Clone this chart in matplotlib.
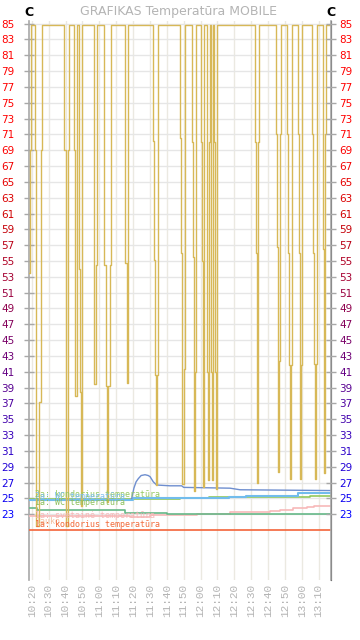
import matplotlib
matplotlib.use('Agg')
import matplotlib.pyplot as plt

# time axis: minutes after 10:00
x_ticks = [20, 30, 40, 50, 60, 70, 80, 90, 100, 110, 120, 130, 140, 150, 160, 170, 180, 190]
x_labels = ['10:20', '10:30', '10:40', '10:50', '11:00', '11:10', '11:20', '11:30', '11:40',
            '11:50', '12:00', '12:10', '12:20', '12:30', '12:40', '12:50', '13:00', '13:10']
y_ticks = list(range(23, 86, 2))

# heating water (gold step series)
gold_t = [18.6, 19.2, 19.6,
          22.07, 22.7, 24.2, 25.3, 26.2,
          39.26, 40.1, 41.3, 41.7, 42.22,
          45.19, 45.6, 46.6, 46.96,
          48.15, 48.6, 48.98, 49.6, 49.93,
          56.68, 57.04, 57.87, 58.46,
          62.96, 63.8, 64.5, 65.4, 66.3, 67.11,
          75.41, 76.24, 76.83, 77.19,
          92.0, 92.6, 93.1, 93.5, 94.0, 94.5, 94.96,
          108.0, 108.5, 108.9, 109.3, 110.2, 110.6, 110.96,
          115.1, 115.6, 116.0, 116.3, 116.8, 117.2, 117.5,
          120.4, 120.8, 121.2, 121.5, 121.8, 122.0, 122.2,
          123.6, 124.0, 124.3, 124.8, 125.2, 125.6,
          126.0, 126.4, 126.8, 127.3, 127.6,
          128.2, 128.6, 129.0, 129.5, 129.9,
          152.4, 152.9, 153.3, 153.6, 154.0, 154.3, 154.6,
          164.9, 165.3, 165.7, 166.0, 166.6, 167.1, 167.5,
          171.4, 171.9, 172.4, 172.8, 173.5, 174.0, 174.4,
          178.0, 178.5, 178.9, 179.2, 179.6, 180.0, 180.3,
          186.2, 186.7, 187.2, 187.7, 188.2, 188.8, 189.2,
          192.4, 192.8, 193.1, 193.4, 193.7, 193.9, 194.2,
          197.5]
gold_v = [53.5, 69, 84.8,
          69, 21.5, 37.2, 69, 84.8,
          69, 21.5, 37.7, 69, 84.8,
          69, 38.0, 53.6, 84.8,
          54, 38.5, 24, 54, 84.8,
          54.5, 39.5, 54.5, 84.8,
          54.5, 39.2, 24.5, 39.2, 54.5, 84.8,
          54.8, 39.6, 54.8, 84.8,
          70.1, 55.1, 40.6, 26.7, 40.6, 55.1, 84.8,
          70.5, 56, 41.3, 26.8, 41.3, 56, 84.8,
          70, 55.5, 41, 25.9, 41, 70, 84.8,
          70, 55, 41, 26.4, 41, 70, 84.8,
          70, 41, 27.3, 41, 70, 84.8,
          70, 41, 27.3, 55, 84.8,
          70, 41, 26.2, 55, 84.8,
          70, 56, 41.5, 27, 41.5, 70, 84.8,
          71, 56.8, 42.4, 28.4, 42.4, 71, 84.8,
          71, 56, 41.9, 27.5, 41.9, 71, 84.8,
          71, 56, 41.8, 27.4, 41.8, 71, 84.8,
          71, 56, 42, 27.5, 42, 71, 84.8,
          71, 56.5, 42.4, 28.2, 42.4, 71, 84.8,
          84.8]

# blue series with the bump around 11:25
blue_t = [79.2, 80.5, 81.8, 83.1, 84.8, 87.1, 89.0, 90.1, 92.0, 94.0, 101.9, 108.8, 110.0, 137.5, 143.4, 197.5]
blue_v = [25.0, 26.3, 27.1, 27.5, 27.9, 28.0, 27.9, 27.75, 27.1, 26.7, 26.6, 26.6, 26.4, 26.3, 26.1, 26.0]

sky_t = [18.6, 80, 137, 147, 178, 197.5]
sky_v = [24.8, 25.0, 25.15, 25.3, 25.65, 25.65]

lgreen_t = [18.6, 108, 125, 185, 197.5]
lgreen_v = [24.9, 25.05, 25.2, 25.3, 25.3]

green_t = [18.6, 23, 75, 100, 197.5]
green_v = [23.8, 23.5, 23.2, 23.1, 23.1]

pink_t = [18.6, 78, 90, 118, 137.5, 161, 167, 175, 183, 187, 197.5]
pink_v = [22.8, 22.7, 22.9, 23.1, 23.25, 23.45, 23.6, 23.8, 23.95, 24.0, 24.0]

kond_t = [18.6, 197.5]
kond_v = [21.0, 21.0]

fig = plt.figure(figsize=(3.6, 6.4), dpi=100, facecolor='white')
ax = fig.add_axes([29.3 / 360, 60 / 640, 302 / 360, 559 / 640])
ax.set_xlim(18.52, 197.48)
ax.set_ylim(14.70, 85.32)

ax.set_xticks(x_ticks)
ax.set_xticklabels(x_labels, rotation=90, family='Liberation Mono', fontsize=8, color='#b4b4b4')
ax.tick_params(axis='x', length=0, pad=3)
ax.set_yticks(y_ticks)
ax.tick_params(axis='y', direction='inout', length=7, width=1, color='#a8a8a8', pad=7, labelsize=7.5)
ax.grid(axis='x', color='#ebe9e1', linewidth=1.0)
ax.grid(axis='y', color='#e6e6e6', linewidth=1.0)
ax.set_axisbelow(True)
for s in ['top', 'bottom']:
    ax.spines[s].set_visible(False)
ax.spines['left'].set_color('#a8a8a8')
ax.spines['left'].set_linewidth(1.2)

ax2 = ax.twinx()
ax2.set_ylim(ax.get_ylim())
ax2.set_yticks(y_ticks)
ax2.tick_params(axis='y', direction='inout', length=7, width=1, color='#a8a8a8', pad=2, labelsize=7.5)
for s in ['top', 'bottom', 'left']:
    ax2.spines[s].set_visible(False)
ax2.spines['right'].set_color('#a8a8a8')
ax2.spines['right'].set_linewidth(1.2)


def label_color(v):
    t = (v - 23) / 62.0
    r = min(1.0, t / 0.75)
    b = max(0.0, 1.0 - t / 0.6)
    return (r, 0.0, b)


for a in (ax, ax2):
    for tick, v in zip(a.get_yticklabels(), y_ticks):
        tick.set_color(label_color(v))

ax.plot(kond_t, kond_v, drawstyle='steps-post', color='#f4643a', lw=1.2, zorder=3)
ax.plot(pink_t, pink_v, drawstyle='steps-post', color='#f7b9b9', lw=1.2, zorder=3)
ax.plot(green_t, green_v, drawstyle='steps-post', color='#66b888', lw=1.2, zorder=3)
ax.plot(lgreen_t, lgreen_v, drawstyle='steps-post', color='#92c85c', lw=1.2, zorder=3)
ax.plot(sky_t, sky_v, drawstyle='steps-post', color='#72bcec', lw=1.5, zorder=3)
ax.plot(blue_t, blue_v, color='#6e8ecf', lw=1.0, zorder=3)
ax.plot(gold_t, gold_v, drawstyle='steps-post', color='#d7b857', lw=1.0, zorder=4)

lab_font = dict(family='DejaVu Sans Mono', fontsize=6.0, va='center', ha='left', zorder=5)
ax.text(21.9, 25.55, '2a: kondorius temperatūra', color='#94c860', **lab_font)
ax.text(21.9, 25.3, '2a: WC temperatūra', color='#7ebfee', **lab_font)
ax.text(21.9, 24.45, '1a: WC temperatūra', color='#8cc05a', **lab_font)
ax.text(21.9, 22.8, '1a: svetainė temperatūra', color='#f7b6b6', **lab_font)
ax.text(21.9, 22.15, 'lauko', color='#f4c0a0', **lab_font)
ax.text(21.9, 21.75, '1a: kondorius temperatūra', color='#f26b3a', **lab_font)

fig.text(178.4 / 360, 1 - 12 / 640, 'GRAFIKAS Temperatūra MOBILE', ha='center', va='center',
         color='#b4b4b4', fontsize=9)
fig.text(29 / 360, 1 - 12.8 / 640, 'C', ha='center', va='center', fontweight='bold', fontsize=9)
fig.text(331 / 360, 1 - 12.8 / 640, 'C', ha='center', va='center', fontweight='bold', fontsize=9)

fig.savefig('out.png', dpi=100)
